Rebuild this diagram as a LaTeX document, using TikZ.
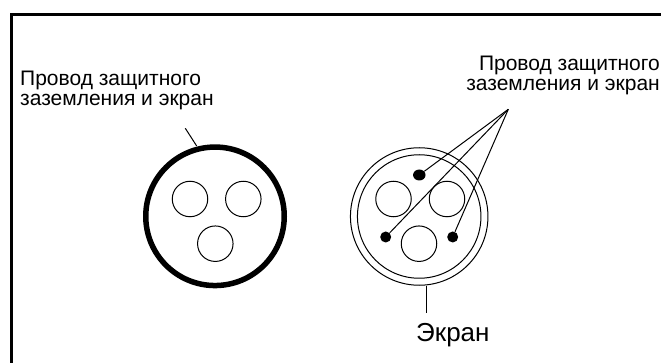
\documentclass[tikz,border=0pt]{standalone}
\usepackage{fontspec}
\setmainfont{Liberation Sans}
\usetikzlibrary{shapes.geometric}
\tikzset{
  conductor/.style={circle,draw=black,line width=1pt,minimum size=35.5pt,inner sep=0pt},
  dotnode/.style={ellipse,fill=black,minimum width=11pt,minimum height=11pt,inner sep=0pt},
  lead/.style={draw=black,line width=1pt},
  lab/.style={inner sep=0pt,align=left,font=\fontsize{21pt}{21pt}\selectfont},
}
\begin{document}
\begin{tikzpicture}[x=1pt,y=-1pt]
\useasboundingbox (0,0) rectangle (661,363);
\fill[white] (0,0) rectangle (661,363);
\draw[line width=3pt,line cap=butt] (11,363) -- (11,14.5) -- (661,14.5);
% left cable
\node[circle,draw=black,line width=5.5pt,minimum size=138.5pt,inner sep=0pt] (cableA) at (215,216.3) {};
\node[conductor] (a1) at (190,199) {};
\node[conductor] (a2) at (243.3,199) {};
\node[conductor] (a3) at (215.3,243.7) {};
\coordinate (aEnd) at (185.3,128.3);
\draw[lead] (aEnd) -- (196.7,146);
\node[lab,anchor=base west] (labA) at (20,86) {Провод защитного};
\node[lab,anchor=base west] (labB) at (20,106) {заземления и экран};
% right cable
\node[circle,draw=black,line width=1pt,minimum size=137.5pt,inner sep=0pt] (cableB) at (419.2,216.5) {};
\node[circle,draw=black,line width=1pt,minimum size=123.5pt,inner sep=0pt] (cableC) at (419.2,216.5) {};
\node[conductor] (b1) at (393.5,199) {};
\node[conductor] (b2) at (447,199) {};
\node[conductor] (b3) at (419,243.7) {};
\node[dotnode,minimum width=12.5pt] (d1) at (419.3,175) {};
\node[dotnode] (d2) at (385.7,237) {};
\node[dotnode] (d3) at (452.7,237) {};
\coordinate (apex) at (508.3,109.3);
\draw[lead] (apex) -- (d1);
\draw[lead] (apex) -- (d2);
\draw[lead] (apex) -- (d3);
\node[lab,anchor=base east] (labC) at (660,71) {Провод защитного};
\node[lab,anchor=base east] (labD) at (660,91) {заземления и экран};
\coordinate (scrEnd) at (426,312.7);
\draw[lead] (cableB.south -| scrEnd) -- (scrEnd);
\node[inner sep=0pt,anchor=base west,font=\fontsize{26pt}{26pt}\selectfont] (labE) at (416,341.5) {Экран};
\end{tikzpicture}
\end{document}
